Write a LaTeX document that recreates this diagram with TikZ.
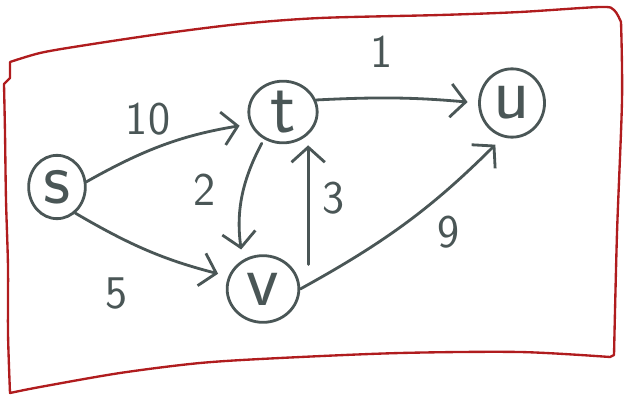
\documentclass[tikz,border=0pt]{standalone}
\usepackage{fontspec}
\usetikzlibrary{arrows.meta,shapes.geometric}
\definecolor{ink}{HTML}{4A5656}
\definecolor{redpen}{HTML}{B01C1E}

\begin{document}
\begin{tikzpicture}[x=0.03cm, y=-0.03cm, line cap=round, line join=round,
  vtx/.style={draw=ink, line width=2.4pt, ellipse, inner sep=-4pt, text=ink,
    font=\sffamily\fontsize{64}{64}\selectfont},
  edge/.style={draw=ink, line width=2.4pt, shorten >=9pt,
    -{Straight Barb[length=4.5mm,width=10mm]}},
  weight/.style={text=ink, font=\sffamily\fontsize{40}{40}\selectfont}]
  \useasboundingbox (0,0) rectangle (626,395);

  % hand drawn frame
  \draw[redpen, line width=2pt]
    plot[smooth, tension=0.5] coordinates {(10,62) (40,53) (80,46) (160,34)
      (240,24) (320,18) (440,15) (520,12) (600,7) (614,10) (621,22)}
    -- plot[smooth, tension=0.5] coordinates {(621,22) (622,100) (617,233) (614,355)}
    -- (610,357)
    -- plot[smooth, tension=0.5] coordinates {(610,357) (520,352) (400,353)
      (280,358) (200,363) (120,373) (40,387) (10,393)}
    -- plot[smooth, tension=0.5] coordinates {(10,393) (8,333) (8,267) (6,200)
      (5,133) (4,84)}
    -- (10,78) -- (10,62);

  % vertices
  \node[vtx, minimum width=1.7cm, minimum height=1.9cm] (s) at (57,187) {s};
  \node[vtx, minimum width=2.05cm, minimum height=1.85cm] (t) at (283,112) {t};
  \node[vtx, minimum width=1.95cm, minimum height=2.05cm] (u) at (512,103) {u};
  \node[vtx, minimum width=2.15cm, minimum height=2cm] (v) at (263,289) {v};

  % edges
  \draw[edge] (s.10) to[bend left=10] (t.200);
  \draw[edge] (s.-55) to[bend right=8] (v.160);
  \draw[edge, shorten <=4pt] (t.235) to[bend right=18] (v.125);
  \draw[edge] (v.north east -| t.south east) -- (t.south east);
  \draw[edge] (t.20) to[bend left=4] (u.180);
  \draw[edge] (v.east) to[bend right=8] (u.-105);

  % weights
  \node[weight] (w-st) at (148,119) {10};
  \node[weight] (w-sv) at (117,293) {5};
  \node[weight] (w-tv) at (205,190) {2};
  \node[weight] (w-vt) at (334,198) {3};
  \node[weight] (w-tu) at (382,52) {1};
  \node[weight] (w-vu) at (449,232) {9};
\end{tikzpicture}
\end{document}
